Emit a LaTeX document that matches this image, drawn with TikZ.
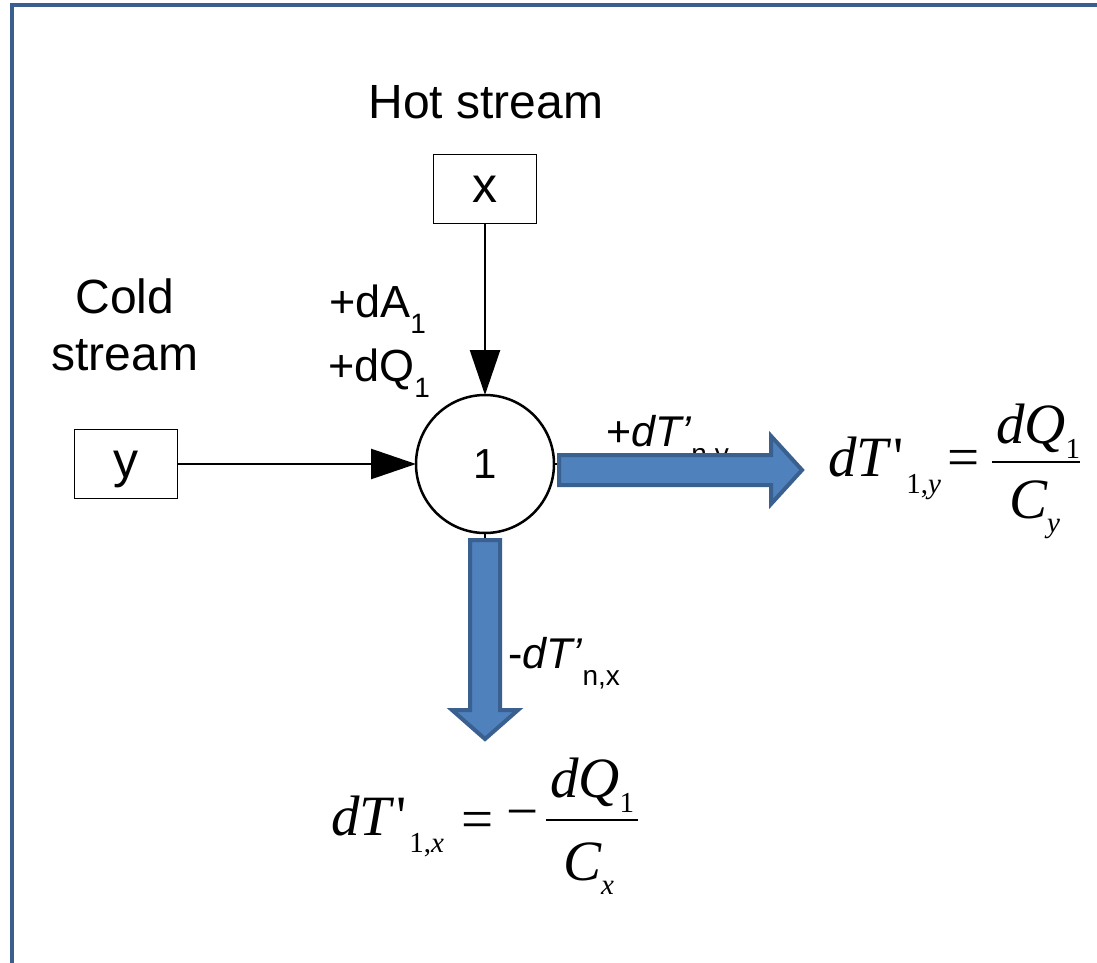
\documentclass[tikz,border=0pt]{standalone}
\usepackage{graphicx}
\usepackage{fontspec}
\setmainfont{Liberation Sans}
\newfontfamily\eqf{Liberation Serif}
\usetikzlibrary{arrows.meta}
\definecolor{frameblue}{HTML}{3A5F8F}
\definecolor{arrowfill}{HTML}{4F81BD}
\definecolor{arrowline}{HTML}{3A6090}
\newcommand\subsz{\fontsize{28}{28}\selectfont}
\newcommand\eqsubsz{\fontsize{29}{29}\selectfont}
\begin{document}
\begin{tikzpicture}[x=1pt,y=-1pt,
  every node/.style={inner sep=0pt, outer sep=0pt},
  lbl/.style={font=\fontsize{48}{48}\selectfont},
  small/.style={font=\fontsize{45}{45}\selectfont},
  arrlbl/.style={font=\fontsize{43}{43}\selectfont},
  streambox/.style={draw, line width=1pt, minimum width=103pt, minimum height=69pt,
    text depth=0pt, font=\fontsize{50}{50}\selectfont},
  unit/.style={draw, circle, line width=2.5pt, minimum size=138pt,
    font=\fontsize{42}{42}\selectfont},
  flow/.style={line width=2.5pt, -{Triangle[length=45pt,width=30pt]}},
  blockarrow/.style={fill=arrowfill, draw=arrowline, line width=4pt, line join=miter},
  eq/.style={font=\eqf\fontsize{57}{57}\selectfont},
]
\useasboundingbox (0,0) rectangle (1097,963);
\clip (0,0) rectangle (1097,963);

% outer frame
\draw[frameblue, line width=4pt] (12,5) rectangle (1300,1200);

% stream labels
\node[lbl, anchor=base] (hot) at (486,119) {Hot stream};
\node[lbl, anchor=base] (cold) at (125,313) {Cold};
\node[lbl, anchor=base] (coldb) at (125,370) {stream};
\node[small, anchor=base west] (da) at (329,317)
  {+dA\raisebox{-16pt}{\subsz 1}};
\node[small, anchor=base west] (dq) at (328,381)
  {+dQ\raisebox{-16pt}{\subsz 1}};

% boxes and the exchanger unit
\node[streambox] (hx) at (485,188.5) {\raisebox{-2pt}{x}};
\node[streambox] (cy) at (125.5,464) {y};
\node[unit] (n1) at (485,464) {1};

\draw[flow] (hx) -- (n1);
\draw[flow] (cy) -- (n1);

% temperature change labels
\node[arrlbl, anchor=base west] (dty) at (606,446)
  {+\textit{dT’}\raisebox{-17pt}{\subsz n,y}};
\node[arrlbl, anchor=base west] (dtx) at (508,668)
  {-\textit{dT’}\raisebox{-17pt}{\subsz n,x}};

% block arrows leaving the unit
\coordinate (rtail) at (560,464);
\coordinate (dtail) at (485,541);
\draw[line width=2.5pt] (n1.east) -- (rtail);
\draw[line width=2.5pt] (n1.south) -- (dtail);
\draw[blockarrow] (559,455) -- (771,455) -- (771,436) -- (802,470)
  -- (771,504) -- (771,485) -- (559,485) -- cycle;
\draw[blockarrow] (470,540) -- (470,710) -- (452,710) -- (485,739)
  -- (518,710) -- (500,710) -- (500,540) -- cycle;

% dT'_{1,y} = dQ_1 / C_y
\node[eq, anchor=base west] (ry1) at (828,476)
  {\itshape dT\upshape\kern5pt\textquotesingle\kern3pt\raisebox{-17pt}{\eqsubsz 1,\itshape y}};
\node[eq] (ry3) at (964,463) {=};
\coordinate (rbl) at (992,462);
\coordinate (rbr) at (1080,462);
\draw[line width=2pt] (rbl) -- (rbr);
\node[eq, anchor=base west] (ry4) at (996,443)
  {\itshape dQ\upshape\raisebox{-15pt}{\eqsubsz 1}};
\node[eq, anchor=base west] (ry6) at (1009,518)
  {\itshape C\raisebox{-14pt}{\eqsubsz y}};

% dT'_{1,x} = - dQ_1 / C_x
\node[eq, anchor=base west] (bx1) at (331,835)
  {\itshape dT\upshape\kern5pt\textquotesingle\kern3pt\raisebox{-17pt}{\eqsubsz 1,\itshape x}};
\node[eq] (bx3) at (478,825) {=};
\node[eq] (bx4) at (523,820) {−};
\coordinate (bbl) at (546,820);
\coordinate (bbr) at (638,820);
\draw[line width=2pt] (bbl) -- (bbr);
\node[eq, anchor=base west] (bx5) at (550,797)
  {\itshape dQ\upshape\raisebox{-15pt}{\eqsubsz 1}};
\node[eq, anchor=base west] (bx7) at (563,880)
  {\itshape C\raisebox{-14pt}{\eqsubsz x}};
\end{tikzpicture}
\end{document}
